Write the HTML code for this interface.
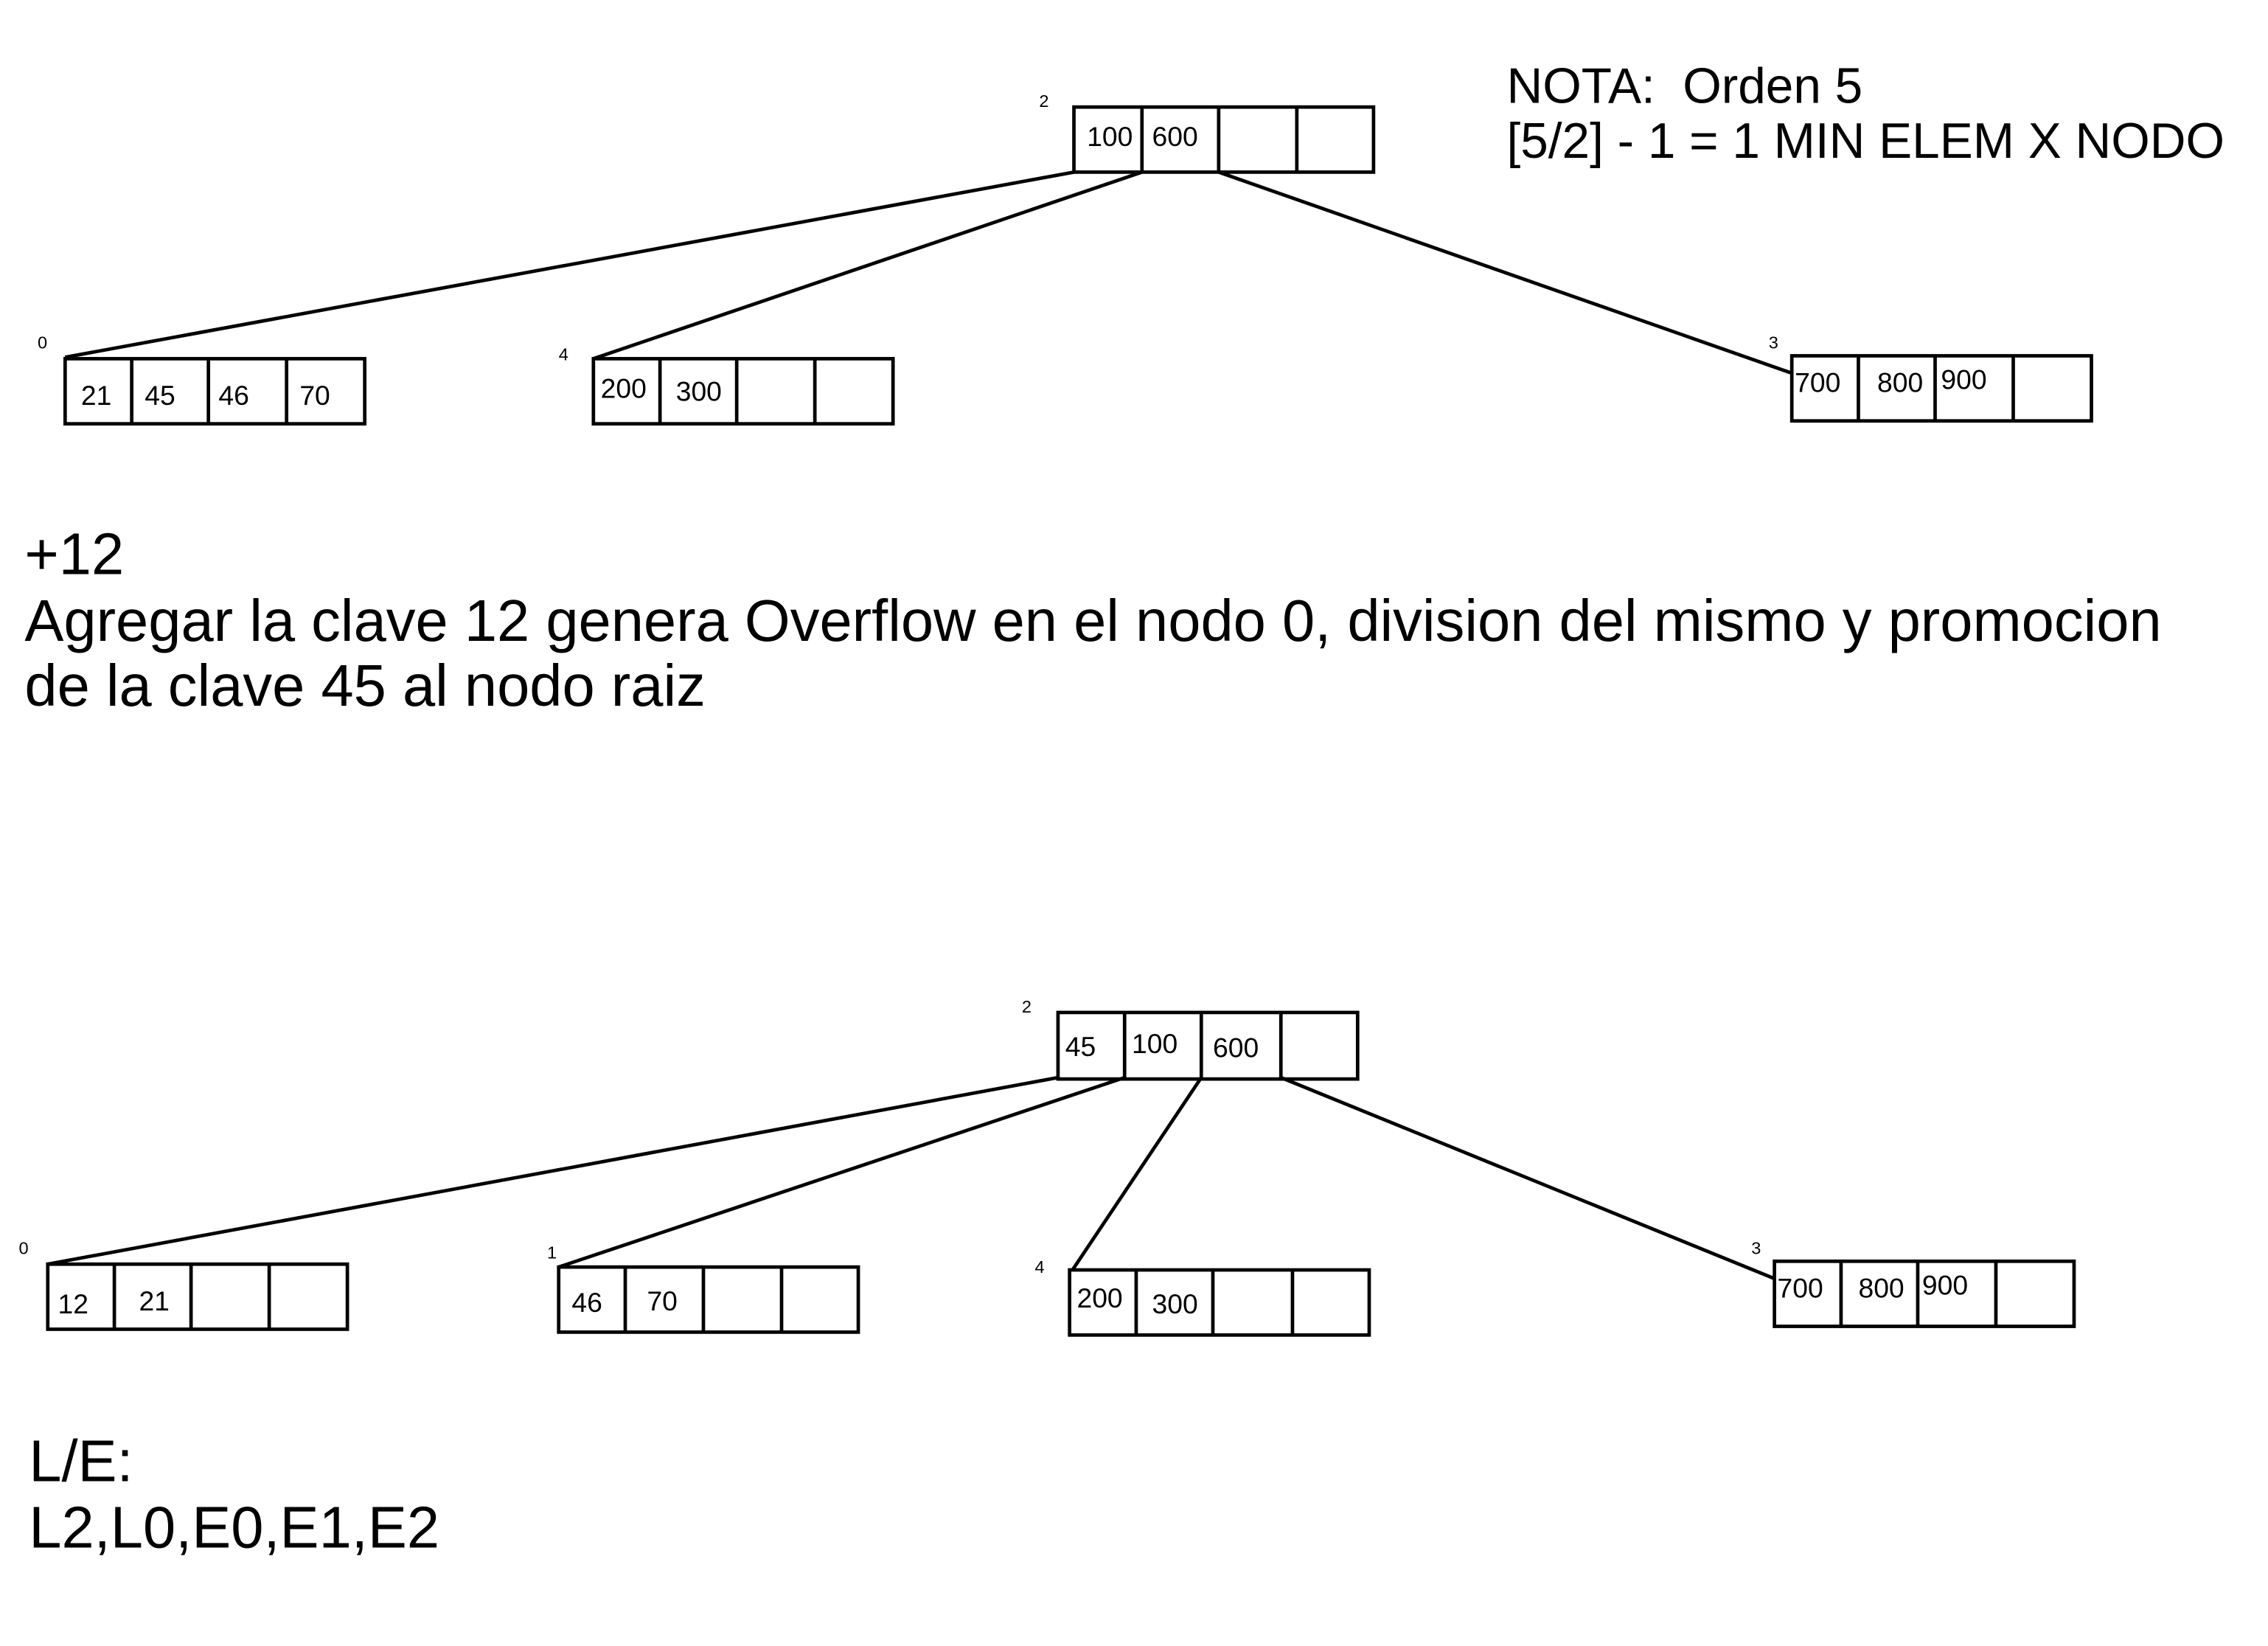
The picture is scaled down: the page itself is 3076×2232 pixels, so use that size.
<!DOCTYPE html>
<html><head><meta charset="utf-8">
<style>
html,body{margin:0;padding:0;background:#fff;}
svg{display:block;}
text{font-family:"Liberation Sans",sans-serif;fill:#000;}
.c{font-size:19px;}
.l{font-size:12px;}
.b{font-size:34.4px;}
.t{font-size:40.5px;}
</style></head>
<body>
<svg width="3076" height="2232" viewBox="0 0 1567 1138" preserveAspectRatio="none" xmlns="http://www.w3.org/2000/svg">
<rect width="1567" height="1138" fill="#fff"/>
<g stroke="#000" stroke-width="2.4" fill="none">
<rect x="742" y="74" width="207" height="45"/>
<line x1="789" y1="74" x2="789" y2="119"/><line x1="842" y1="74" x2="842" y2="119"/><line x1="896" y1="74" x2="896" y2="119"/>
<rect x="45" y="248" width="207" height="45"/>
<line x1="91" y1="248" x2="91" y2="293"/><line x1="144" y1="248" x2="144" y2="293"/><line x1="198" y1="248" x2="198" y2="293"/>
<rect x="410" y="248" width="207" height="45"/>
<line x1="456" y1="248" x2="456" y2="293"/><line x1="509" y1="248" x2="509" y2="293"/><line x1="563" y1="248" x2="563" y2="293"/>
<rect x="1238" y="246" width="207" height="45"/>
<line x1="1284" y1="246" x2="1284" y2="291"/><line x1="1337" y1="246" x2="1337" y2="291"/><line x1="1391" y1="246" x2="1391" y2="291"/>
<line x1="742" y1="119" x2="45" y2="247"/>
<line x1="789" y1="119" x2="410" y2="248"/>
<line x1="842" y1="119" x2="1238" y2="258"/>
<rect x="731" y="700" width="207" height="46"/>
<line x1="777" y1="700" x2="777" y2="746"/><line x1="830" y1="700" x2="830" y2="746"/><line x1="885" y1="700" x2="885" y2="746"/>
<rect x="33" y="874" width="207" height="45"/>
<line x1="79" y1="874" x2="79" y2="919"/><line x1="132" y1="874" x2="132" y2="919"/><line x1="186" y1="874" x2="186" y2="919"/>
<rect x="386" y="876" width="207" height="45"/>
<line x1="432" y1="876" x2="432" y2="921"/><line x1="486" y1="876" x2="486" y2="921"/><line x1="540" y1="876" x2="540" y2="921"/>
<rect x="739" y="878" width="207" height="45"/>
<line x1="785" y1="878" x2="785" y2="923"/><line x1="838" y1="878" x2="838" y2="923"/><line x1="893" y1="878" x2="893" y2="923"/>
<rect x="1226" y="872" width="207" height="45"/>
<line x1="1272" y1="872" x2="1272" y2="917"/><line x1="1325" y1="872" x2="1325" y2="917"/><line x1="1379" y1="872" x2="1379" y2="917"/>
<line x1="731" y1="745" x2="33" y2="874"/>
<line x1="777" y1="745" x2="386" y2="876"/>
<line x1="830" y1="745" x2="741" y2="878"/>
<line x1="885" y1="745" x2="1226" y2="884"/>
</g>
<text class="l" x="718" y="74">2</text>
<text class="c" x="751" y="101">100</text><text class="c" x="796" y="101">600</text>
<text class="l" x="26" y="241">0</text>
<text class="c" x="56" y="280">21</text><text class="c" x="100" y="280">45</text><text class="c" x="151" y="280">46</text><text class="c" x="207" y="280">70</text>
<text class="l" x="386" y="249">4</text>
<text class="c" x="415" y="275">200</text><text class="c" x="467" y="277">300</text>
<text class="l" x="1222" y="241">3</text>
<text class="c" x="1240" y="271">700</text><text class="c" x="1297" y="271">800</text><text class="c" x="1341" y="269">900</text>
<text class="b" x="1041" y="71">NOTA:&#160; Orden 5</text>
<text class="b" x="1041" y="109">[5/2] - 1 = 1 MIN ELEM X NODO</text>
<text class="t" x="17" y="397">+12</text>
<text class="t" x="17" y="443">Agregar la clave 12 genera Overflow en el nodo 0, division del mismo y promocion</text>
<text class="t" x="17" y="488">de la clave 45 al nodo raiz</text>
<text class="l" x="706" y="700">2</text>
<text class="c" x="736" y="730">45</text><text class="c" x="782" y="728">100</text><text class="c" x="838" y="731">600</text>
<text class="l" x="13" y="867">0</text>
<text class="c" x="40" y="908">12</text><text class="c" x="96" y="906">21</text>
<text class="l" x="378" y="870">1</text>
<text class="c" x="395" y="907">46</text><text class="c" x="447" y="906">70</text>
<text class="l" x="715" y="880">4</text>
<text class="c" x="744" y="904">200</text><text class="c" x="796" y="908">300</text>
<text class="l" x="1210" y="867">3</text>
<text class="c" x="1228" y="897">700</text><text class="c" x="1284" y="897">800</text><text class="c" x="1328" y="895">900</text>
<text class="t" x="20" y="1024">L/E:</text>
<text class="t" x="20" y="1070">L2,L0,E0,E1,E2</text>
</svg>
</body></html>
